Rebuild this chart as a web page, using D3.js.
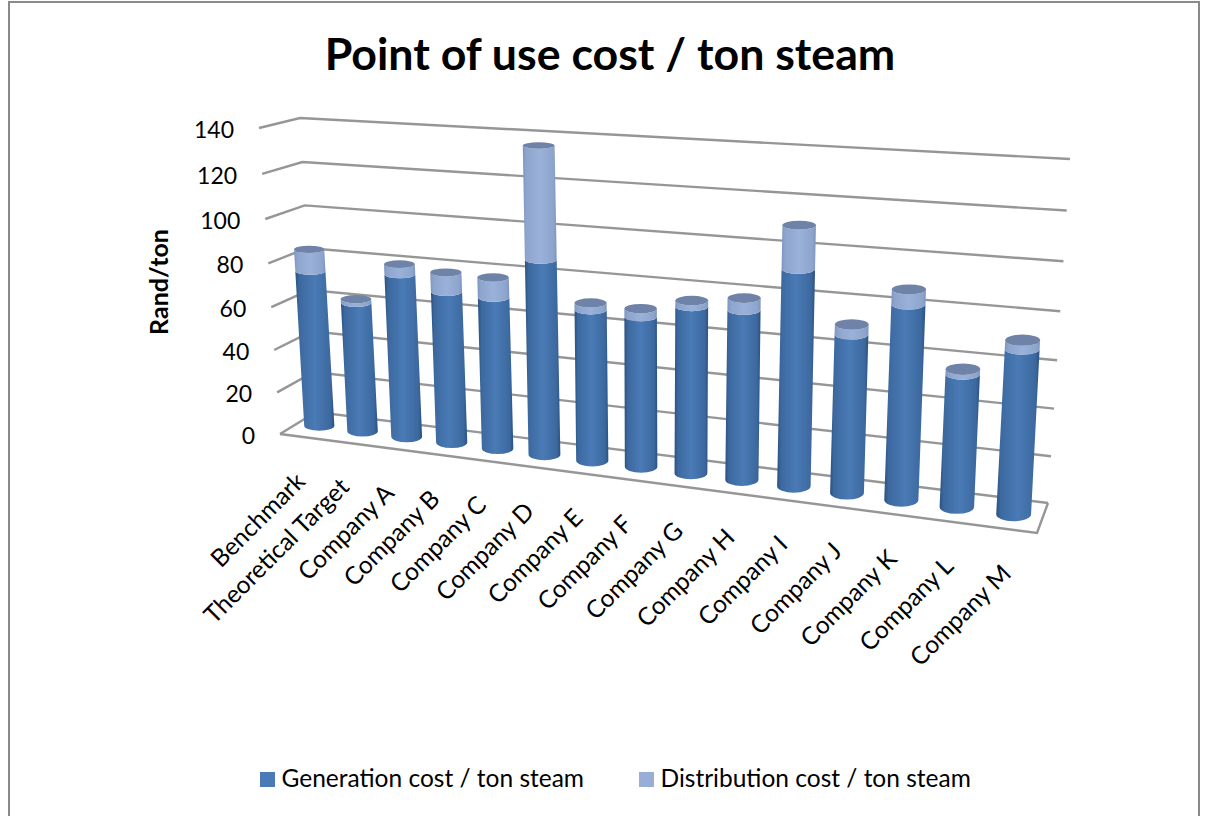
<!DOCTYPE html>
<html>
<head>
<meta charset="utf-8">
<script src="https://cdn.jsdelivr.net/npm/d3@7/dist/d3.min.js"></script>
<style>
html,body{margin:0;padding:0;background:#fff}
svg{display:block;font-family:Lato,"Open Sans",sans-serif}
</style>
</head>
<body>
<svg id="chart" width="1214" height="816"></svg>
<script>
const categories = ["Benchmark","Theoretical Target","Company A","Company B","Company C","Company D","Company E","Company F","Company G","Company H","Company I","Company J","Company K","Company L","Company M"];
const generationCost = [73.8,61,76,70,69.5,88,68,67,73.5,74,93,68,82.4,56,68.5];
const distributionCost = [10,1.7,4.6,8.7,8.8,48.8,3,3.5,2.5,5,18,4,6,2,3.5];
const yTicks = [0,20,40,60,80,100,120,140];
const seriesNames = ["Generation cost / ton steam","Distribution cost / ton steam"];

const svg = d3.select("#chart");

// Eight corners of the chart box on screen: front/back, left/right, floor/top
const box = {
  flb:[280,434], flt:[259,128], frb:[1037,533], frt:[1054,177],
  blb:[316,412], blt:[300,118], brb:[1048,503], brt:[1070,159]
};
const lerp = (a,b,t)=>[a[0]+(b[0]-a[0])*t, a[1]+(b[1]-a[1])*t];
const foreshorten = (r,t)=>t/(t+r*(1-t));
// Projects box coordinates (u across, v depth, w height; all 0..1) to the screen
function project(u,v,w){
  const uw = foreshorten(1.17,u), ww = foreshorten(1.058,w);
  const fb = lerp(box.flb,box.frb,uw), ft = lerp(box.flt,box.frt,uw);
  const bb = lerp(box.blb,box.brb,uw), bt = lerp(box.blt,box.brt,uw);
  return lerp(lerp(fb,ft,ww), lerp(bb,bt,ww), v);
}
const yScale = d3.scaleLinear().domain([0,140]).range([0,1]);
const xScale = d3.scaleBand().domain(categories).range([0,1]);
const radius = d3.scaleLinear().domain([0,1]).range([15,17.5]);

const defs = svg.append("defs");
function cylinderGradient(id,edge,mid){
  const g = defs.append("linearGradient").attr("id",id).attr("x1",0).attr("x2",1).attr("y1",0).attr("y2",0);
  [[0,edge],[0.1,d3.interpolateRgb(edge,mid)(0.55)],[0.5,mid],[0.9,d3.interpolateRgb(edge,mid)(0.55)],[1,edge]]
    .forEach(([o,c])=>g.append("stop").attr("offset",o).attr("stop-color",c));
}
cylinderGradient("genBody","#2a5180","#4a7bb6");
cylinderGradient("distBody","#7d95bf","#9ab1d9");

// Chart frame
svg.append("rect").attr("x",9).attr("y",2).attr("width",1190).attr("height",830)
  .attr("fill","#fff").attr("stroke","#8a8a8a").attr("stroke-width",2);

// Title
svg.append("text").attr("x",610).attr("y",70).attr("text-anchor","middle")
  .attr("font-size",44.7).attr("font-weight",700).attr("fill","#000").text("Point of use cost / ton steam");

// Gridlines on the side and back walls
const line = d3.line();
const gridG = svg.append("g").attr("fill","none").attr("stroke","#969696").attr("stroke-width",2.4);
gridG.selectAll("path").data(yTicks).join("path").attr("d",t=>{
  const w = yScale(t);
  return line([project(0,0,w),project(0,1,w),project(1,1,w)]);
});
// Floor outline
gridG.append("path").attr("d",line([project(0,0,0),project(1,0,0),project(1,1,0)]));

// Value axis labels follow the slant of the front-left edge
svg.append("g").selectAll("text").data(yTicks).join("text")
  .attr("text-anchor","end").attr("font-size",23).attr("fill","#000")
  .attr("x",t=>project(0,0,yScale(t))[0]-25)
  .attr("y",t=>project(0,0,yScale(t))[1]+10).text(t=>t);

svg.append("text").attr("transform","translate(168,282) rotate(-90)").attr("text-anchor","middle")
  .attr("font-size",25).attr("font-weight",700).attr("fill","#000").text("Rand/ton");

// Cylinder segment between two values at one category
function segment(g,cat,v0,v1,fill,capFill){
  const u = xScale(cat)+xScale.bandwidth()/2;
  const r = radius(u);
  const w0 = yScale(v0), w1 = yScale(v1);
  const ry = w=>5+2*u-2.5*w;
  const b = project(u,0.5,w0), t = project(u,0.5,w1);
  g.append("path")
    .attr("d",`M${b[0]-r},${b[1]}L${t[0]-r},${t[1]}A${r},${ry(w1)} 0 0 0 ${t[0]+r},${t[1]}L${b[0]+r},${b[1]}A${r},${ry(w0)} 0 0 1 ${b[0]-r},${b[1]}Z`)
    .attr("fill",fill);
  if(capFill){
    g.append("ellipse").attr("cx",t[0]).attr("cy",t[1])
      .attr("rx",r).attr("ry",ry(w1)).attr("fill",capFill);
  }
}
const barsG = svg.append("g");
categories.forEach((c,i)=>{
  const g = barsG.append("g");
  const gen = generationCost[i], dist = distributionCost[i];
  segment(g,c,0,gen,"url(#genBody)",null);
  segment(g,c,gen,gen+dist,"url(#distBody)","#6f83a8");
});

// Category labels along the front floor edge
svg.append("g").selectAll("text").data(categories).join("text")
  .attr("text-anchor","end").attr("font-size",24.5).attr("fill","#000")
  .attr("transform",c=>{
    const p = project(xScale(c)+xScale.bandwidth()/2,0,0);
    return `translate(${p[0]+5},${p[1]+46}) rotate(-45)`;
  }).text(c=>c);

// Legend
const legendX = [260,639], legendColors = ["#4a7bb6","#98aed6"];
const lg = svg.append("g").selectAll("g").data(seriesNames).join("g")
  .attr("transform",(d,i)=>`translate(${legendX[i]},772)`);
lg.append("rect").attr("width",15).attr("height",15).attr("fill",(d,i)=>legendColors[i]);
lg.append("text").attr("x",21.5).attr("y",15).attr("font-size",24.5).attr("fill","#000").text(d=>d);
</script>
</body>
</html>
